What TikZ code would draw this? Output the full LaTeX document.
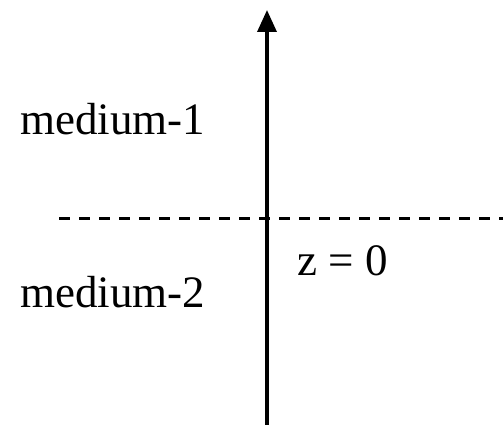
\documentclass[tikz,border=0pt]{standalone}
\usepackage{fontspec}
\setmainfont{Liberation Serif}
\usetikzlibrary{arrows.meta}
\begin{document}
\begin{tikzpicture}[x=1pt,y=-1pt,
  lbl/.style={anchor=base west,inner sep=0pt,font=\fontsize{45}{50}\selectfont},
  axis/.style={line width=3.5pt,-{Triangle[width=19pt,length=22pt]}},
  bound/.style={line width=3pt,dash pattern=on 11pt off 9pt}]
\useasboundingbox (0,0) rectangle (503,425);
\coordinate (abot) at (267,426);
\coordinate (atop) at (267,10);
\coordinate (dl) at (59,218);
\coordinate (dr) at (503,218);
\draw[bound] (dl) -- (dr);
\draw[axis] (abot) -- (atop);
\node[lbl] (m1) at (20,135) {medium-1};
\node[lbl] (m2) at (20,307) {medium-2};
\node[lbl] (z0) at (297,275) {z = 0};
\end{tikzpicture}
\end{document}
